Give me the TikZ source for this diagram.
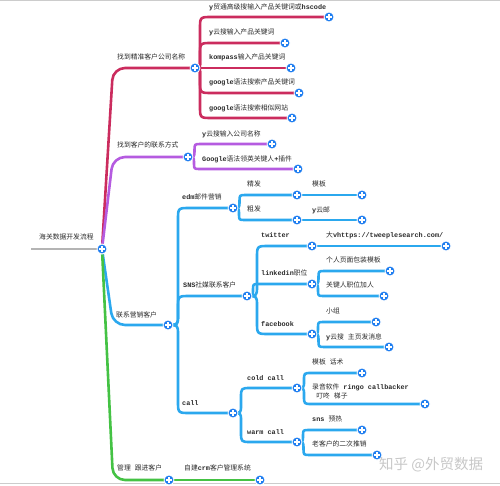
\documentclass[tikz,border=0pt]{standalone}
\usepackage{fontspec}
\setmainfont{Noto Sans CJK SC}
\setmonofont{Liberation Mono}
\usetikzlibrary{calc,backgrounds}
\newcommand\tm[1]{{\ttfamily\bfseries #1}}
\newcommand\msp{{\ttfamily\bfseries\ }}
\definecolor{crimc}{HTML}{CB2C5E}
\definecolor{purpc}{HTML}{B55BE0}
\definecolor{cyanc}{HTML}{2BA8EE}
\definecolor{greenc}{HTML}{44C244}
\definecolor{dotc}{HTML}{1C7CF0}
\definecolor{rootc}{HTML}{B4B4B4}
\definecolor{txtc}{HTML}{2A2A2A}
\tikzset{
  lab/.style={anchor=west, inner sep=0pt, text=txtc, font=\fontsize{6.8}{9}\selectfont},
  dot/.style={circle, fill=dotc, draw=white, line width=0.8pt, minimum size=10pt, inner sep=0pt,
    path picture={\draw[white, line width=1.2pt]
      ([xshift=-2.6pt]path picture bounding box.center) -- ([xshift=2.6pt]path picture bounding box.center)
      ([yshift=-2.6pt]path picture bounding box.center) -- ([yshift=2.6pt]path picture bounding box.center);}},
  br/.style={line width=2.6pt, line join=round},
  crim/.style={br, draw=crimc},
  purp/.style={br, draw=purpc},
  cy/.style={br, draw=cyanc},
  grn/.style={br, draw=greenc},
  rootline/.style={br, draw=rootc},
  trunk/.style={rounded corners=12pt, to path={let \p2=(\tikztotarget) in (\tikztostart) -- (113pt,\y2) -- (\p2)}},
  elbow/.style 2 args={to path={let \p1=(\tikztostart), \p2=(\tikztotarget),
    \n1={sign(\y2-\y1)}, \n2={min(#1,abs(\y2-\y1)/2)}, \n3={min(#2,abs(\y2-\y1)/2)} in
    (\p1) .. controls ({\x1+\n2},\y1) .. ({\x1+\n2},{\y1+(\n1)*(\n2)})
    -- ({\x1+\n2},{\y2-(\n1)*(\n3)}) .. controls ({\x1+\n2},\y2) .. ({\x1+\n2+\n3},\y2) -- (\p2)}},
  wm/.style={anchor=west, inner sep=0pt, text=black!22, font=\fontsize{14.5}{15}\selectfont},
}
\begin{document}
\begin{tikzpicture}[x=1pt,y=-1pt]
\useasboundingbox (0,0) rectangle (500,486);
\draw[black!20, line width=1pt] (0,0.5) -- (500,0.5);
\draw[black!20, line width=1pt] (0,483.5) -- (500,483.5);

% circles
\coordinate (r0) at (31,249);
\node[dot] (R) at (102,249) {};
\node[dot] (A) at (195,68) {};
\node[dot] (A1) at (329,17) {};
\node[dot] (A2) at (285,43) {};
\node[dot] (A3) at (291,68) {};
\node[dot] (A4) at (299,93) {};
\node[dot] (A5) at (292,118) {};
\node[dot] (B) at (188,157) {};
\node[dot] (B1) at (272,144) {};
\node[dot] (B2) at (298,169) {};
\node[dot] (C) at (168,325) {};
\node[dot] (C1) at (233,208) {};
\node[dot] (C11) at (297,195) {};
\node[dot] (C111) at (362,195) {};
\node[dot] (C12) at (297,220) {};
\node[dot] (C121) at (362,220) {};
\node[dot] (C2) at (247,296) {};
\node[dot] (C21) at (312,246) {};
\node[dot] (C211) at (446,246) {};
\node[dot] (C22) at (312,284) {};
\node[dot] (C221) at (390,271) {};
\node[dot] (C222) at (384,296) {};
\node[dot] (C23) at (312,334) {};
\node[dot] (C231) at (376,322) {};
\node[dot] (C232) at (389,347) {};
\node[dot] (C3) at (233,413) {};
\node[dot] (C31) at (297,388) {};
\node[dot] (C311) at (362,373) {};
\node[dot] (C312) at (425,404) {};
\node[dot] (C32) at (297,442) {};
\node[dot] (C321) at (362,430) {};
\node[dot] (C322) at (377,455) {};
\node[dot] (D) at (169,480) {};
\node[dot] (D1) at (260,480) {};

% labels
\node[lab] (tR) at (39,237) {海关数据开发流程};
\node[lab] (tA) at (117,57) {找到精准客户公司名称};
\node[lab] (tA1) at (209,7) {\tm{y}贸通高级搜输入产品关键词或\tm{hscode}};
\node[lab] (tA2) at (209,32) {\tm{y}云搜输入产品关键词};
\node[lab] (tA3) at (209,57) {\tm{kompass}输入产品关键词};
\node[lab] (tA4) at (209,82) {\tm{google}语法搜索产品关键词};
\node[lab] (tA5) at (209,108) {\tm{google}语法搜索相似网站};
\node[lab] (tB) at (117,145) {找到客户的联系方式};
\node[lab] (tB1) at (202,134) {\tm{y}云搜输入公司名称};
\node[lab] (tB2) at (202,159) {\tm{Google}语法领英关键人\tm{+}插件};
\node[lab] (tC) at (116,315) {联系营销客户};
\node[lab] (tC1) at (182,197) {\tm{edm}邮件营销};
\node[lab] (tC11) at (247,184) {精发};
\node[lab] (tC111) at (312,184) {模板};
\node[lab] (tC12) at (247,209) {粗发};
\node[lab] (tC121) at (312,210) {\tm{y}云邮};
\node[lab] (tC2) at (183,285) {\tm{SNS}社媒联系客户};
\node[lab] (tC21) at (261,235) {\tm{twitter}};
\node[lab] (tC211) at (326,235) {大\tm{vhttps://tweeplesearch.com/}};
\node[lab] (tC22) at (261,273) {\tm{linkedin}职位};
\node[lab] (tC221) at (326,260) {个人页面包装模板};
\node[lab] (tC222) at (326,285) {关键人职位加人};
\node[lab] (tC23) at (261,324) {\tm{facebook}};
\node[lab] (tC231) at (326,311) {小组};
\node[lab] (tC232) at (326,337) {\tm{y}云搜\msp 主页发消息};
\node[lab] (tC3) at (182,403) {\tm{call}};
\node[lab] (tC31) at (247,378) {\tm{cold call}};
\node[lab] (tC311) at (312,362) {模板\msp 话术};
\node[lab, align=left] (tC312) at (312,391.5) {录音软件\msp\tm{ringo callbacker}\\\msp 叮咚\msp 梯子};
\node[lab] (tC32) at (247,432) {\tm{warm call}};
\node[lab] (tC321) at (312,419) {\tm{sns}\msp 预热};
\node[lab] (tC322) at (312,444) {老客户的二次推销};
\node[lab] (tD) at (117,468) {管理\msp 跟进客户};
\node[lab] (tD1) at (184,468) {自建\tm{crm}客户管理系统};
\node[wm] (wmk) at (379,465) {知乎 @外贸数据};

% connectors
\begin{scope}[on background layer]
\draw[rootline] (r0) -- (R);
\draw[crim] (R) to[trunk] (A);
\draw[purp] (R) to[trunk] (B);
\draw[cy] (R) to[trunk] (C);
\draw[grn] (R) to[trunk] (D);
\draw[crim] (A) to[elbow={5}{12}] (A1);
\draw[crim] (A) to[elbow={5}{12}] (A2);
\draw[crim] (A) -- (A3);
\draw[crim] (A) to[elbow={5}{12}] (A4);
\draw[crim] (A) to[elbow={5}{12}] (A5);
\draw[purp] (B) to[elbow={8}{10}] (B1);
\draw[purp] (B) to[elbow={8}{10}] (B2);
\draw[cy] (C) to[elbow={10}{12}] (C1);
\draw[cy] (C) to[elbow={10}{12}] (C2);
\draw[cy] (C) to[elbow={10}{12}] (C3);
\draw[cy] (C1) to[elbow={7}{7}] (C11);
\draw[cy] (C1) to[elbow={7}{7}] (C12);
\draw[cy] (C11) -- (C111);
\draw[cy] (C12) -- (C121);
\draw[cy] (C2) to[elbow={10}{12}] (C21);
\draw[cy] (C2) to[elbow={10}{12}] (C22);
\draw[cy] (C2) to[elbow={10}{12}] (C23);
\draw[cy] (C21) -- (C211);
\draw[cy] (C22) to[elbow={7}{7}] (C221);
\draw[cy] (C22) to[elbow={7}{7}] (C222);
\draw[cy] (C23) to[elbow={7}{7}] (C231);
\draw[cy] (C23) to[elbow={7}{7}] (C232);
\draw[cy] (C3) to[elbow={8}{10}] (C31);
\draw[cy] (C3) to[elbow={8}{10}] (C32);
\draw[cy] (C31) to[elbow={7}{8}] (C311);
\draw[cy] (C31) to[elbow={7}{8}] (C312);
\draw[cy] (C32) to[elbow={7}{7}] (C321);
\draw[cy] (C32) to[elbow={7}{7}] (C322);
\draw[grn] (D) -- (D1);
\end{scope}
\end{tikzpicture}
\end{document}
